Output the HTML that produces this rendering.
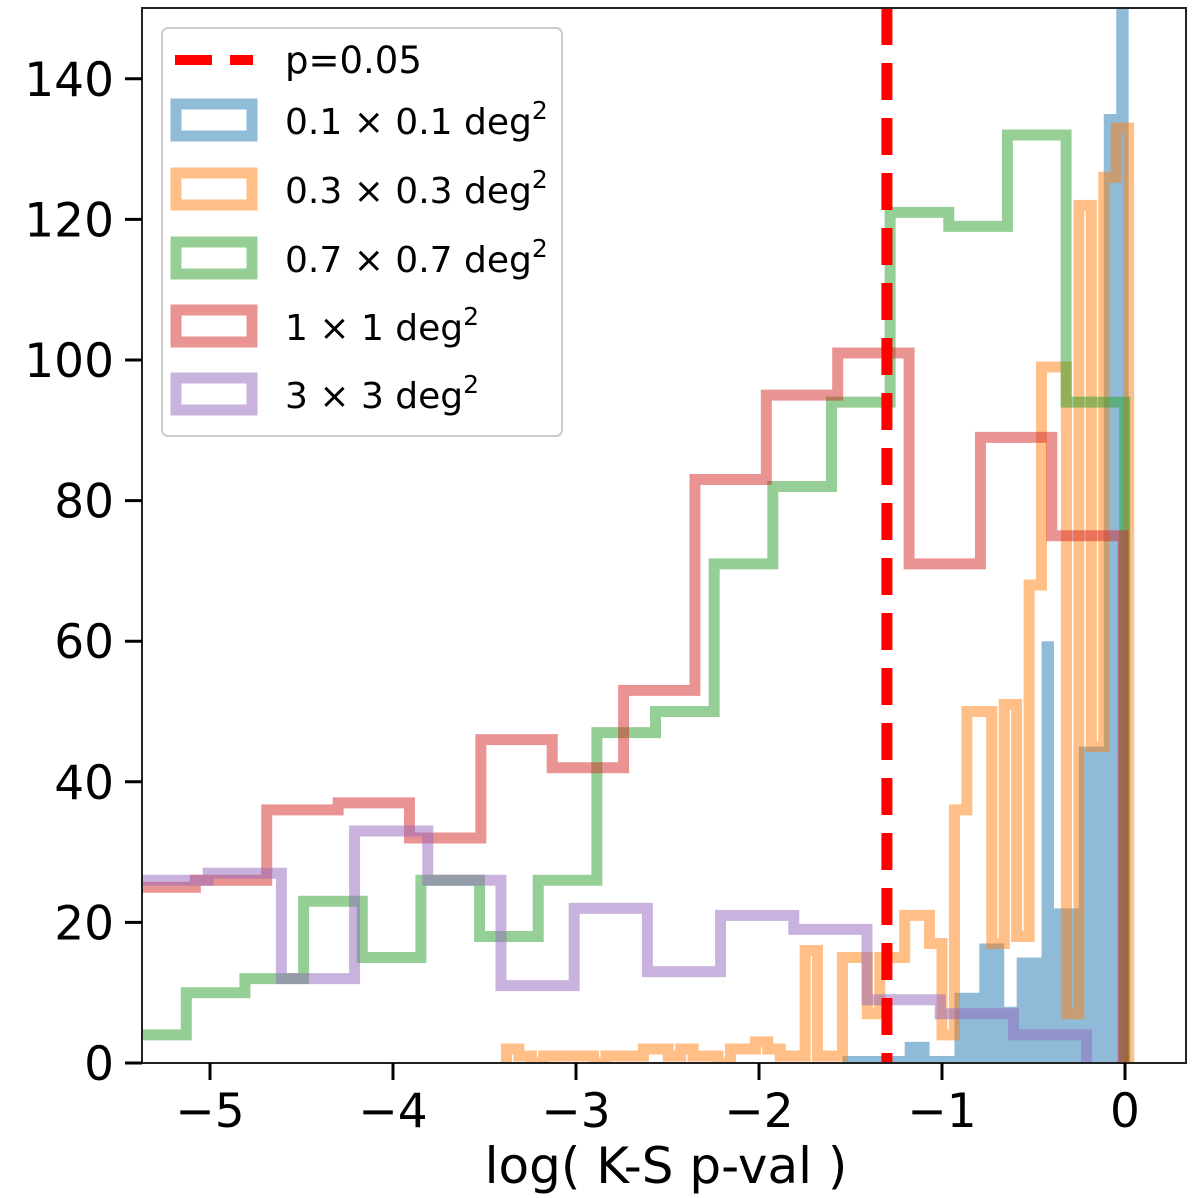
<!DOCTYPE html>
<html><head><meta charset="utf-8"><style>
html,body{margin:0;padding:0;background:#fff;}
svg{display:block;font-family:"DejaVu Sans","Liberation Sans",sans-serif;}
</style></head><body>
<svg id="chart" width="1200" height="1198" viewBox="0 0 1200 1198" xmlns="http://www.w3.org/2000/svg">
<defs><clipPath id="clip"><rect x="142" y="8" width="1044" height="1055"/></clipPath></defs>
<rect x="0" y="0" width="1200" height="1198" fill="#fff"/>
<g id="plot" clip-path="url(#clip)"></g>
<g id="axes"></g>
<g>
  <rect x="162" y="28" width="400" height="408" rx="6" fill="#fff" fill-opacity="0.8" stroke="#ccc" stroke-width="2"/>
  <line x1="175" y1="60" x2="253" y2="60" stroke="#ff0000" stroke-width="10" stroke-dasharray="37,18"/>
  <text x="285" y="73" font-size="37">p=0.05</text>
  <text x="285" y="134" font-size="36">0.1 × 0.1 deg<tspan dy="-15" font-size="25">2</tspan></text>
  <rect x="176" y="104" width="76" height="32" fill="none" stroke="#1f77b4" stroke-opacity="0.5" stroke-width="11"/>
  <rect x="176" y="173" width="76" height="32" fill="none" stroke="#ff7f0e" stroke-opacity="0.5" stroke-width="11"/>
  <text x="285" y="203" font-size="36">0.3 × 0.3 deg<tspan dy="-15" font-size="25">2</tspan></text>
  <rect x="176" y="242" width="76" height="32" fill="none" stroke="#2ca02c" stroke-opacity="0.5" stroke-width="11"/>
  <text x="285" y="272" font-size="36">0.7 × 0.7 deg<tspan dy="-15" font-size="25">2</tspan></text>
  <rect x="176" y="310" width="76" height="32" fill="none" stroke="#d62728" stroke-opacity="0.5" stroke-width="11"/>
  <text x="285" y="340" font-size="36">1 × 1 deg<tspan dy="-15" font-size="25">2</tspan></text>
  <rect x="176" y="378" width="76" height="32" fill="none" stroke="#9467bd" stroke-opacity="0.5" stroke-width="11"/>
  <text x="285" y="408" font-size="36">3 × 3 deg<tspan dy="-15" font-size="25">2</tspan></text>
</g>
</svg>
<script>
const xTicks = [-5, -4, -3, -2, -1, 0];
const xTickLabels = ["−5", "−4", "−3", "−2", "−1", "0"];
const yTicks = [0, 20, 40, 60, 80, 100, 120, 140];
const pThreshold = -1.301;

const redStart = -5.47, redWidth = 0.39;
const redCounts = [25, 26, 36, 37, 32, 46, 42, 53, 83, 95, 101, 71, 89, 75];

const greenStart = -5.45, greenWidth = 0.3205;
const greenCounts = [4, 10, 12, 23, 15, 26, 18, 26, 47, 50, 71, 82, 94, 121, 119, 132, 94];

const purpleStart = -5.81, purpleWidth = 0.4;
const purpleCounts = [17, 26, 27, 12, 33, 26, 11, 22, 13, 21, 19, 9, 7, 4];

const orangeStart = -3.38, orangeWidth = 0.068;
const orangeCounts = [2,1,0,1,1,1,1,0,1,1,1,2,2,1,2,1,1,0,2,2,3,2,1,1,16,1,1,15,15,7,15,15,21,21,17,4,36,50,50,17,51,18,68,99,99,7,122,45,126,133];

const blueStart = -3.38, blueWidth = 0.068;
const blueCounts = [0,0,0,0,0,0,0,0,0,0,0,0,0,0,0,0,0,0,0,0,0,0,0,0,0,0,0,1,1,1,1,1,3,3,1,1,10,10,17,17,8,15,15,60,22,22,45,45,135,200];

const X = v => 1125 + v * 183;
const Y = v => 1063 - v * 7.03;
const NS = "http://www.w3.org/2000/svg";
const plot = document.getElementById('plot');
const axes = document.getElementById('axes');

function stepPath(start, width, counts, close) {
  let d = `M${X(start)},${Y(0)}`;
  counts.forEach((c, i) => {
    d += ` L${X(start + i * width)},${Y(c)} L${X(start + (i + 1) * width)},${Y(c)}`;
  });
  d += ` L${X(start + counts.length * width)},${Y(0)}`;
  if (close) d += ' Z';
  return d;
}

const blue = document.createElementNS(NS, 'path');


blue.setAttribute('d', stepPath(blueStart, blueWidth, blueCounts, true));
blue.setAttribute('fill', '#1f77b4'); blue.setAttribute('fill-opacity', '0.5');
plot.appendChild(blue);

function addStep(name, start, width, counts, color) {
  const p = document.createElementNS(NS, 'path');
  
  
  p.setAttribute('d', stepPath(start, width, counts, false));
  p.setAttribute('fill', 'none'); p.setAttribute('stroke', color);
  p.setAttribute('stroke-opacity', '0.5'); p.setAttribute('stroke-width', '11');
  p.setAttribute('stroke-linejoin', 'miter');
  plot.appendChild(p);
}
addStep('hist-0.3deg', orangeStart, orangeWidth, orangeCounts, '#ff7f0e');
addStep('hist-0.7deg', greenStart, greenWidth, greenCounts, '#2ca02c');
addStep('hist-1deg', redStart, redWidth, redCounts, '#d62728');
addStep('hist-3deg', purpleStart, purpleWidth, purpleCounts, '#9467bd');

const pl = document.createElementNS(NS, 'line');


pl.setAttribute('x1', X(pThreshold)); pl.setAttribute('x2', X(pThreshold));
pl.setAttribute('y1', 8); pl.setAttribute('y2', 1063);
pl.setAttribute('stroke', '#ff0000'); pl.setAttribute('stroke-width', '11');
pl.setAttribute('stroke-dasharray', '37,18');
plot.appendChild(pl);

const frame = document.createElementNS(NS, 'rect');


frame.setAttribute('x', 142); frame.setAttribute('y', 8);
frame.setAttribute('width', 1044); frame.setAttribute('height', 1055);
frame.setAttribute('fill', 'none'); frame.setAttribute('stroke', '#222'); frame.setAttribute('stroke-width', '2');
axes.appendChild(frame);

xTicks.forEach((v, i) => {
  const t = document.createElementNS(NS, 'line');
  
  
  t.setAttribute('x1', X(v)); t.setAttribute('x2', X(v));
  t.setAttribute('y1', 1063); t.setAttribute('y2', 1080);
  t.setAttribute('stroke', '#000'); t.setAttribute('stroke-width', '3');
  axes.appendChild(t);
  const l = document.createElementNS(NS, 'text');
  
  
  l.setAttribute('x', X(v)); l.setAttribute('y', 1127);
  l.setAttribute('text-anchor', 'middle'); l.setAttribute('font-size', '47');
  l.textContent = xTickLabels[i];
  axes.appendChild(l);
});
yTicks.forEach(v => {
  const t = document.createElementNS(NS, 'line');
  
  
  t.setAttribute('x1', 125); t.setAttribute('x2', 142);
  t.setAttribute('y1', Y(v)); t.setAttribute('y2', Y(v));
  t.setAttribute('stroke', '#000'); t.setAttribute('stroke-width', '3');
  axes.appendChild(t);
  const l = document.createElementNS(NS, 'text');
  
  
  l.setAttribute('x', 114); l.setAttribute('y', Y(v) + 17);
  l.setAttribute('text-anchor', 'end'); l.setAttribute('font-size', '47');
  l.textContent = v;
  axes.appendChild(l);
});
const xl = document.createElementNS(NS, 'text');


xl.setAttribute('x', 666); xl.setAttribute('y', 1183);
xl.setAttribute('text-anchor', 'middle'); xl.setAttribute('font-size', '50');
xl.textContent = 'log( K-S p-val )';
axes.appendChild(xl);
</script>
</body></html>
